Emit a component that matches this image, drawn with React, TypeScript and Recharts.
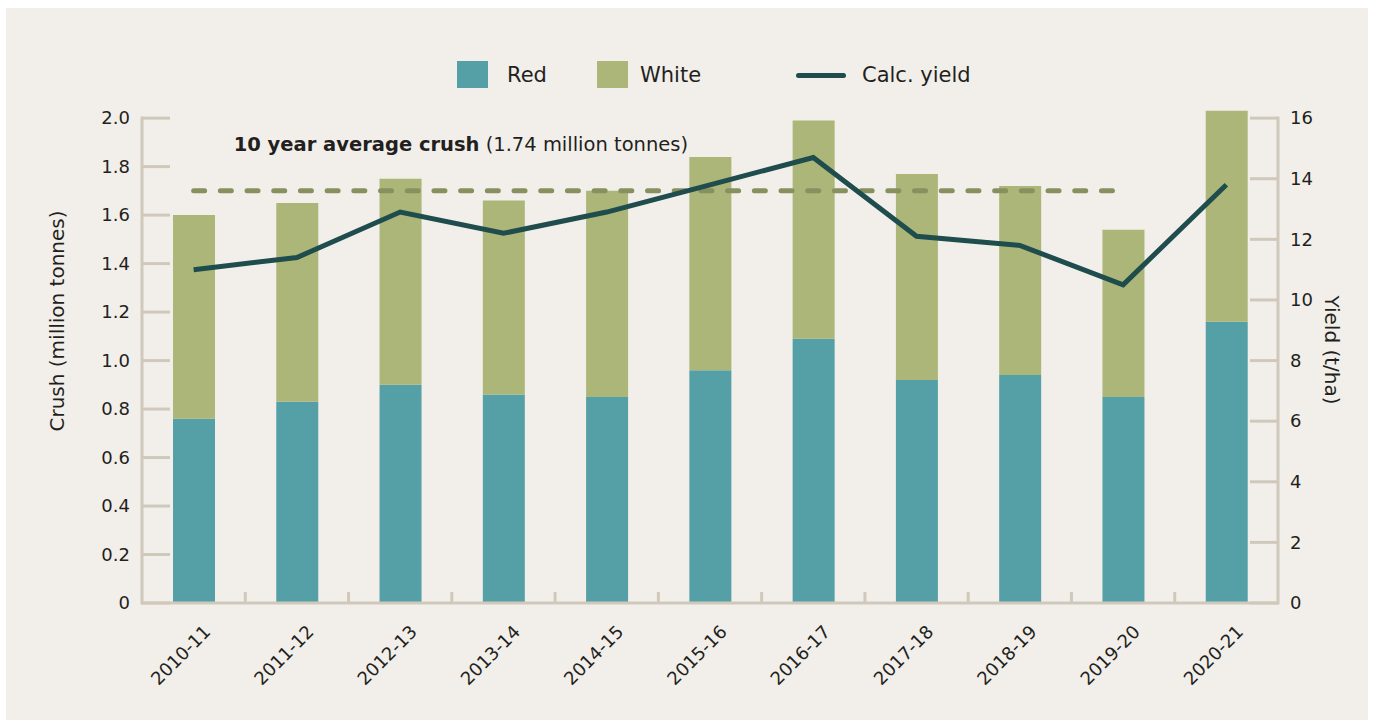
import React from 'react';
import { ComposedChart, Bar, Line, XAxis, YAxis, ReferenceLine } from 'recharts';

const categories = ['2010-11', '2011-12', '2012-13', '2013-14', '2014-15', '2015-16', '2016-17', '2017-18', '2018-19', '2019-20', '2020-21'];
const redCrush = [0.76, 0.83, 0.9, 0.86, 0.85, 0.96, 1.09, 0.92, 0.94, 0.85, 1.16];
const whiteCrush = [0.84, 0.82, 0.85, 0.8, 0.85, 0.88, 0.9, 0.85, 0.78, 0.69, 0.87];
const calcYield = [11.0, 11.4, 12.9, 12.2, 12.9, 13.8, 14.7, 12.1, 11.8, 10.5, 13.8];
const leftTicks = [0, 0.2, 0.4, 0.6, 0.8, 1.0, 1.2, 1.4, 1.6, 1.8, 2.0];
const rightTicks = [0, 2, 4, 6, 8, 10, 12, 14, 16];
const avgCrush = 1.7;
const avgLabelBold = '10 year average crush';
const avgLabelRest = ' (1.74 million tonnes)';

const colours = {
  red: '#55a0a6',
  white: '#abb678',
  yield: '#1f4c4c',
  avg: '#87915f',
  axis: '#d0c9bb',
  text: '#231f20',
  panel: '#f2efea',
};

const legendItems = [
  { name: 'Red', colour: colours.red, kind: 'square', left: 451, textLeft: 501 },
  { name: 'White', colour: colours.white, kind: 'square', left: 591, textLeft: 634 },
  { name: 'Calc. yield', colour: colours.yield, kind: 'line', left: 790, textLeft: 856 },
];

const W = 1362;
const H = 712;
const LEFT_MAX = 2.05;
const RIGHT_MAX = 16.4;
const MARGIN = { top: 98, right: 10, bottom: 17, left: 56 };
const X_AXIS_H = 100;
const PLOT_H = H - MARGIN.top - MARGIN.bottom - X_AXIS_H;
const PLOT_W = W - MARGIN.left - MARGIN.right - 160;
const BAND = PLOT_W / categories.length;
const FONT = '"DejaVu Sans", sans-serif';

const data = categories.map((c, i) => ({
  name: c,
  red: redCrush[i],
  white: whiteCrush[i],
  yield: calcYield[i],
}));

function LeftTick(props: any) {
  const { x, y, payload } = props;
  const ax = x + 12;
  const v = payload.value as number;
  return (
    <g>
      <line x1={ax} x2={ax + 28} y1={y} y2={y} stroke={colours.axis} strokeWidth={3} />
      {v === 0 && (
        <line x1={ax} x2={ax} y1={y + 1.5} y2={y - (PLOT_H * 2.0) / LEFT_MAX - 1.5} stroke={colours.axis} strokeWidth={3} />
      )}
      <text x={x} y={y} dy="0.35em" textAnchor="end" fill={colours.text} fontSize={18} fontFamily={FONT}>
        {v === 0 ? '0' : v.toFixed(1)}
      </text>
    </g>
  );
}

function RightTick(props: any) {
  const { x, y, payload } = props;
  const ax = x - 12;
  const v = payload.value as number;
  return (
    <g>
      <line x1={ax - 28} x2={ax} y1={y} y2={y} stroke={colours.axis} strokeWidth={3} />
      {v === 0 && (
        <line x1={ax} x2={ax} y1={y + 1.5} y2={y - (PLOT_H * 16) / RIGHT_MAX - 1.5} stroke={colours.axis} strokeWidth={3} />
      )}
      <text x={x} y={y} dy="0.35em" textAnchor="start" fill={colours.text} fontSize={18} fontFamily={FONT}>
        {v}
      </text>
    </g>
  );
}

function XTick(props: any) {
  const { x, y, payload, index } = props;
  return (
    <g>
      {index < categories.length - 1 && (
        <line x1={x + BAND / 2} x2={x + BAND / 2} y1={y} y2={y - 11} stroke={colours.axis} strokeWidth={3} />
      )}
      <text
        transform={`translate(${x + 18},${y + 30}) rotate(-45)`}
        textAnchor="end"
        fill={colours.text}
        fontSize={18}
        fontFamily={FONT}
      >
        {payload.value}
      </text>
    </g>
  );
}

function AvgLabel(props: any) {
  const vb = props.viewBox || {};
  return (
    <text x={vb.x + 40} y={vb.y - 40} fill={colours.text} fontSize={19.5} fontFamily={FONT}>
      <tspan fontWeight={700}>{avgLabelBold}</tspan>
      <tspan>{avgLabelRest}</tspan>
    </text>
  );
}

export default function App() {
  return (
    <div
      style={{
        position: 'absolute',
        left: 6,
        top: 8,
        width: W,
        height: H,
        background: colours.panel,
        fontFamily: FONT,
        color: colours.text,
      }}
    >
      {legendItems.map((item) => (
        <React.Fragment key={item.name}>
          {item.kind === 'square' ? (
            <div style={{ position: 'absolute', left: item.left, top: 53, width: 31, height: 27, background: item.colour }} />
          ) : (
            <div style={{ position: 'absolute', left: item.left, top: 65, width: 50, height: 5, borderRadius: 3, background: item.colour }} />
          )}
          <div style={{ position: 'absolute', left: item.textLeft, top: 54, fontSize: 21, lineHeight: '26px' }}>
            {item.name}
          </div>
        </React.Fragment>
      ))}
      <div
        style={{
          position: 'absolute',
          left: 51,
          top: 313,
          transform: 'translate(-50%, -50%) rotate(-90deg)',
          fontSize: 20,
          whiteSpace: 'nowrap',
        }}
      >
        Crush (million tonnes)
      </div>
      <div
        style={{
          position: 'absolute',
          left: 1326,
          top: 342,
          transform: 'translate(-50%, -50%) rotate(90deg)',
          fontSize: 20,
          whiteSpace: 'nowrap',
        }}
      >
        Yield (t/ha)
      </div>
      <ComposedChart width={W} height={H} data={data} margin={MARGIN} barCategoryGap={0}>
        <XAxis
          dataKey="name"
          interval={0}
          height={X_AXIS_H}
          tickSize={0}
          tickMargin={0}
          tickLine={false}
          axisLine={{ stroke: colours.axis, strokeWidth: 3 }}
          tick={<XTick />}
        />
        <YAxis
          yAxisId="left"
          width={80}
          domain={[0, LEFT_MAX]}
          ticks={leftTicks}
          tickSize={0}
          tickMargin={12}
          tickLine={false}
          axisLine={false}
          tick={<LeftTick />}
        />
        <YAxis
          yAxisId="right"
          orientation="right"
          width={80}
          domain={[0, RIGHT_MAX]}
          ticks={rightTicks}
          tickSize={0}
          tickMargin={12}
          tickLine={false}
          axisLine={false}
          tick={<RightTick />}
        />
        <Bar yAxisId="left" dataKey="red" stackId="crush" fill={colours.red} barSize={42} isAnimationActive={false} />
        <Bar yAxisId="left" dataKey="white" stackId="crush" fill={colours.white} barSize={42} isAnimationActive={false} />
        <ReferenceLine
          yAxisId="left"
          segment={[
            { x: categories[0], y: avgCrush },
            { x: categories[9], y: avgCrush },
          ]}
          stroke={colours.avg}
          strokeWidth={5}
          strokeDasharray="11 15.7"
          strokeLinecap="round"
          label={<AvgLabel />}
        />
        <Line
          yAxisId="right"
          dataKey="yield"
          type="linear"
          stroke={colours.yield}
          strokeWidth={5}
          dot={false}
          activeDot={false}
          isAnimationActive={false}
        />
      </ComposedChart>
    </div>
  );
}
